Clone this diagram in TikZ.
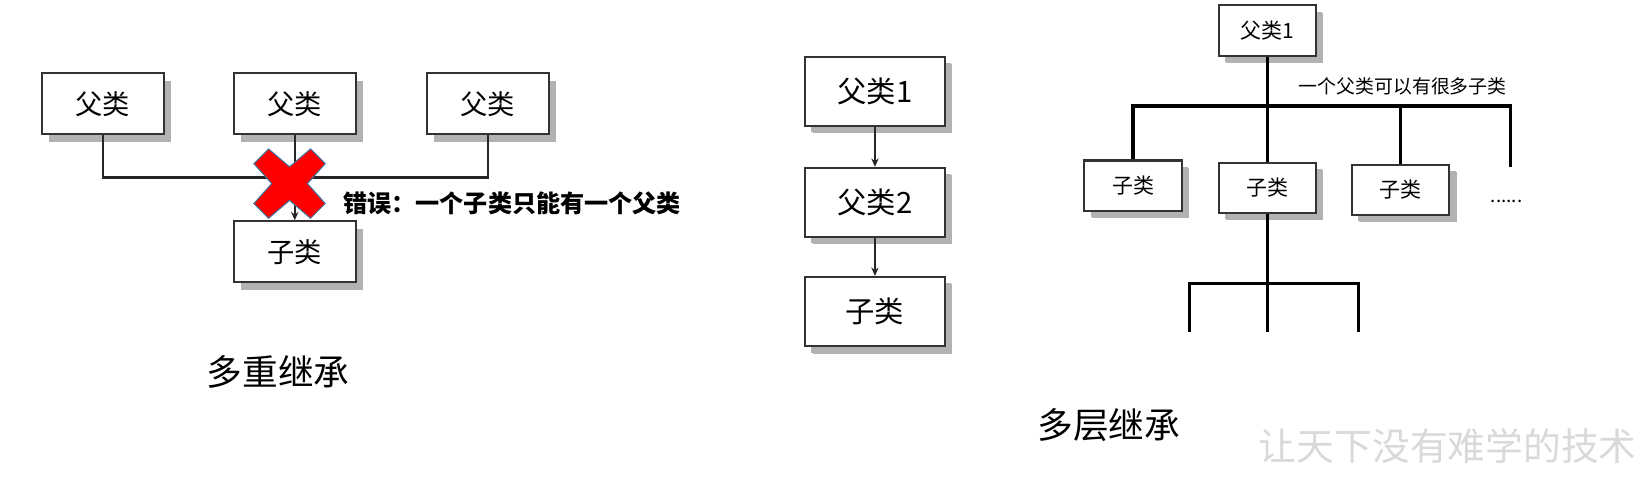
\documentclass[tikz,border=0pt]{standalone}
\usepackage{fontspec}
\newfontfamily\cjk{Noto Sans CJK SC}
\usepackage{tikz}
\usetikzlibrary{
	positioning,
	arrows.meta,
	shadows
}
\definecolor{xred}{RGB}{255,0,0}
\definecolor{xedge}{RGB}{65,113,156}
\tikzset{
	class/.style={draw=black!80,line width=2pt,fill=white,inner sep=0pt,
		minimum width=116pt,minimum height=58pt,
		font=\cjk\fontsize{26}{30}\selectfont,
		drop shadow={shadow xshift=7pt,shadow yshift=-7pt,fill=black!30,opacity=1}},
	bigclass/.style={class,minimum width=133pt,minimum height=66pt,
		font=\cjk\fontsize{28}{32}\selectfont,
		drop shadow={shadow xshift=6pt,shadow yshift=-6pt,fill=black!30,opacity=1}},
	smallclass/.style={class,minimum width=93pt,minimum height=48pt,
		font=\cjk\fontsize{20}{24}\selectfont,
		drop shadow={shadow xshift=6pt,shadow yshift=-6pt,fill=black!30,opacity=1}},
	link/.style={line width=2.4pt,black!85},
	thickline/.style={line width=3pt,black},
	note/.style={inner sep=0pt,font=\cjk\fontsize{18}{22}\selectfont},
	caption/.style={inner sep=0pt,font=\cjk\fontsize{34}{40}\selectfont}
}

\begin{document}
\begin{tikzpicture}[x=1pt,y=-1pt,>={Stealth[length=8pt,width=7pt]}]
	\useasboundingbox (0,0) rectangle (1568,454);

	\node[class] (p1) at (98,99)  {父类};
	\node[class] (p2) at (281,99) {父类};
	\node[class] (p3) at (465,99) {父类};
	\node[class] (c)  at (281,240) {子类};
	\coordinate (j) at (281,169);
	\draw[link] (p1) -- (p1 |- j) -- (p3 |- j) -- (p3);
	\draw[link] (p2) -- (j);
	\draw[link,->] (j) -- (c);
	\filldraw[fill=xred,draw=xedge,line width=1pt,shift={(276,175)}]
		(-34,-19) -- (-20,-33) -- (0,-16) -- (20,-33) -- (34,-19) -- (17,0)
		-- (34,19) -- (20,33) -- (0,16) -- (-20,33) -- (-34,19) -- (-17,0) -- cycle;
	\node[note,anchor=west,font=\cjk\bfseries\fontsize{23}{27}\selectfont] (err) at (327,194) {错误：一个子类只能有一个父类};
	\node[caption] (multi) at (265,355) {多重继承};

	\node[bigclass]                  (m1) at (834,87) {父类1};
	\node[bigclass,below=38pt of m1] (m2)             {父类2};
	\node[bigclass,below=36pt of m2] (m3)             {子类};
	\draw[link,->] (m1) -- (m2);
	\draw[link,->] (m2) -- (m3);
	\node[caption] (chain) at (1057,405) {多层继承};

	\node[smallclass] (r0) at (1208,29)  {父类1};
	\node[smallclass] (r1) at (1080,177) {子类};
	\node[smallclass] (r2) at (1208,179) {子类};
	\node[smallclass] (r3) at (1335,181) {子类};
	\coordinate (bar)  at (1208,101);
	\coordinate (more) at (1440,159);
	\draw[thickline] (r0) -- (bar);
	\draw[thickline] (r1) -- (r1 |- bar) -- (more |- bar) -- (more);
	\draw[thickline] (r2 |- bar) -- (r2);
	\draw[thickline] (r3 |- bar) -- (r3);
	\node[note] (many) at (1337,82) {一个父类可以有很多子类};
	\node[note] (dots) at (1436,192) {......};
	\coordinate (fork) at (1208,270);
	\coordinate (leg1) at (1134,316);
	\coordinate (leg3) at (1295,316);
	\draw[thickline] (r2) -- (r2 |- leg1);
	\draw[thickline] (leg1) -- (leg1 |- fork) -- (leg3 |- fork) -- (leg3);

	\node[caption,black!15,font=\cjk\fontsize{36}{40}\selectfont] (motto) at (1380,425) {让天下没有难学的技术};
\end{tikzpicture}
\end{document}
